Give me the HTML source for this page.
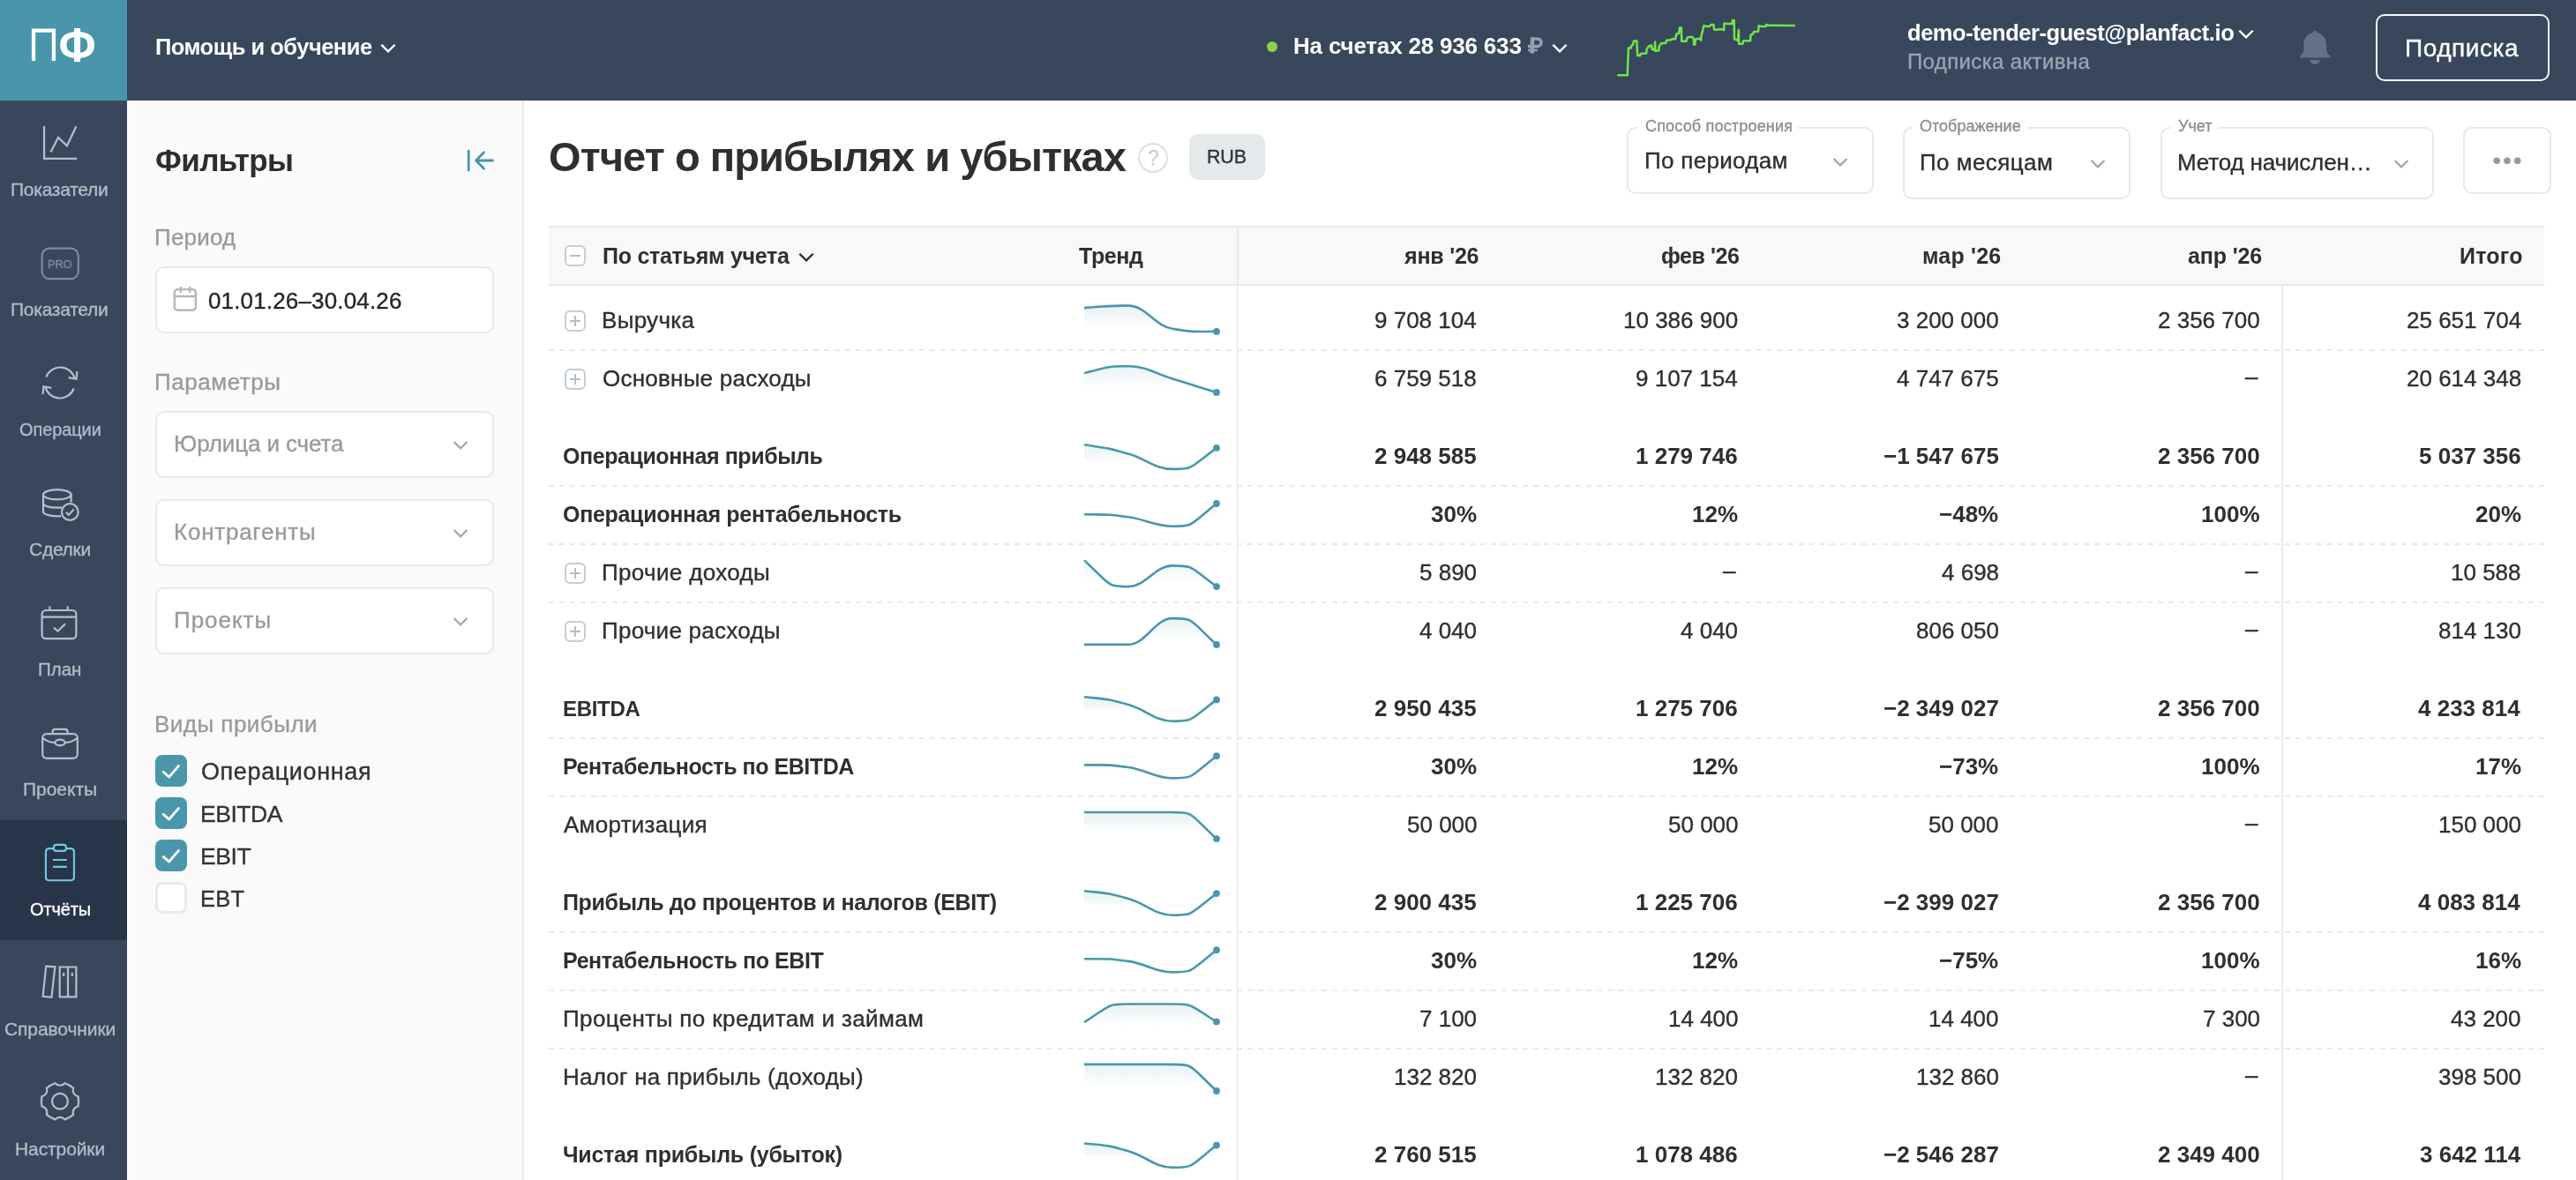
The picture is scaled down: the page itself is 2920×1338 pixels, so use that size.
<!DOCTYPE html>
<html lang="ru"><head><meta charset="utf-8"><title>Отчет о прибылях и убытках</title>
<style>
*{box-sizing:border-box;margin:0;padding:0}
html,body{width:2920px;height:1338px;overflow:hidden;background:#fff}
body{font-family:"Liberation Sans",sans-serif;color:#2f2f2f;position:relative;filter:opacity(1)}
.t{will-change:transform}
.r{-webkit-text-stroke:.35px}
.a{position:absolute}
.t{position:absolute;white-space:nowrap}
#topbar{position:absolute;left:0;top:0;width:2920px;height:114px;background:#38475c}
#logo{position:absolute;left:0;top:0;width:144px;height:114px;background:#4996aa}
#side{position:absolute;left:0;top:114px;width:144px;height:1224px;background:#38475c}
#act{position:absolute;left:0;top:930px;width:144px;height:136px;background:#283447}
#filt{position:absolute;left:144px;top:114px;width:450px;height:1224px;background:#fafafa;border-right:2px solid #ededef}
.fb{position:absolute;left:176px;width:384px;height:76px;border:2px solid #e8e8ef;border-radius:10px;background:#fff}
.cb{position:absolute;left:176px;width:36px;height:36px;border-radius:8px;background:#4a97ab}
.cb.off{background:#fff;border:3px solid #e9eaf0}
.dash{position:absolute;left:622px;width:2262px;height:2px;background:repeating-linear-gradient(90deg,#e9eaf0 0,#e9eaf0 6px,transparent 6px,transparent 12px)}
.ex{position:absolute;left:640px;width:24px;height:24px;border:2px solid #c5cdd4;border-radius:6px;background:#fff}
.ex:before{content:"";position:absolute;left:4px;top:9px;width:12px;height:2px;background:#b5bec6}
.ex.p:after{content:"";position:absolute;left:9px;top:4px;width:2px;height:12px;background:#b5bec6}
.sel{position:absolute;border:2px solid #e8e8ef;border-radius:10px;background:#fff}
.nt{position:absolute;top:-2px;height:2px;background:#fff}
</style></head><body>
<div id="topbar"></div><div id="logo"><svg class="a" style="left:30px;top:28px" width="84" height="48" viewBox="30 28 84 48"><path d="M38.05 68.9V34.7H60.95V68.9" fill="none" stroke="#fff" stroke-width="4.3"/><rect x="84.1" y="32" width="7" height="38.1" fill="#fff"/><path fill="#fff" fill-rule="evenodd" d="M68.20 50.95C68.20 41.08 74.81 36.00 87.65 36.00C100.49 36.00 107.10 41.08 107.10 50.95C107.10 60.82 100.49 65.90 87.65 65.90C74.81 65.90 68.20 60.82 68.20 50.95ZM75.60 50.95C75.60 57.36 78.92 59.85 87.45 59.85C95.98 59.85 99.30 57.36 99.30 50.95C99.30 44.54 95.98 42.05 87.45 42.05C78.92 42.05 75.60 44.54 75.60 50.95Z"/></svg></div><div class="t" style="left:175.6px;top:41px;font-size:25.5px;line-height:25.5px;color:#fff;font-weight:bold;letter-spacing:-0.50px">Помощь и обучение</div><svg class="a" style="left:429.0px;top:47.0px" width="22" height="16" viewBox="0 0 22 16"><path d="M4.2 4.6L11 11.4L17.8 4.6" fill="none" stroke="#fff" stroke-width="2.4" stroke-linecap="square"/></svg><div class="a" style="left:1436px;top:47px;width:12px;height:12px;border-radius:6px;background:#8fd14f"></div><div class="t" style="left:1465.8px;top:39px;font-size:26px;line-height:26px;color:#fff;font-weight:bold;letter-spacing:-0.19px">На счетах 28 936 633</div><svg class="a" style="left:1728px;top:38px" width="26" height="26" viewBox="1728 38 26 26" fill="none" stroke="#97a0ad"><path d="M1736.9 42.2V60.5" stroke-width="4.4"/><path d="M1736.9 44H1742.7A4.3 4.3 0 0 1 1742.7 52.6H1732" stroke-width="3.6"/><path d="M1732 57H1742.9" stroke-width="2.4"/></svg><svg class="a" style="left:1757.3px;top:46.5px" width="22" height="16" viewBox="0 0 22 16"><path d="M4.2 4.6L11 11.4L17.8 4.6" fill="none" stroke="#fff" stroke-width="2.4" stroke-linecap="square"/></svg><svg class="a" style="left:1830px;top:16px" width="212" height="76" viewBox="1830 16 212 76"><path d="M1834.3 85.2L1844.8 85.2L1845.9 54.6L1848.8 54.6L1849.0 52.0L1850.8 51.2L1852.0 46.4L1855.3 46.4L1856.2 63.1L1859.1 63.1L1859.7 61.1L1866.2 60.4L1866.6 55.7L1869.6 51.8L1871.3 52.7L1871.8 51.2L1872.9 56.0L1875.5 56.4L1876.1 47.5L1876.4 57.8L1880.3 57.3L1880.9 52.0L1882.9 49.3L1888.3 48.8L1889.2 45.7L1894.1 45.3L1895.9 44.1L1899.0 44.4L1900.4 38.4L1903.0 37.9L1903.9 31.6L1905.9 31.6L1906.2 46.8L1911.5 46.8L1912.1 43.8L1913.6 42.0L1918.7 42.0L1919.8 44.4L1920.2 50.6L1921.3 50.6L1921.8 44.4L1927.1 43.8L1928.2 45.7L1928.5 40.8L1931.4 29.2L1936.1 30.1L1938.3 29.5L1939.6 27.9L1942.5 27.9L1943.0 33.4L1946.8 33.7L1948.6 33.0L1953.5 33.4L1954.1 34.1L1954.4 26.5L1957.9 27.0L1963.3 27.1L1963.9 22.9L1965.7 22.9L1966.0 44.4L1970.0 45.7L1970.9 34.1L1971.1 49.7L1975.4 49.7L1976.1 46.2L1984.1 46.2L1984.5 39.5L1987.0 38.6L1987.9 36.1L1993.0 35.7L1993.7 29.2L1997.7 30.1L2001.7 29.8L2002.1 27.9L2004.4 28.8L2033.8 28.9" fill="none" stroke="#70e548" stroke-width="2.5" stroke-linejoin="round" stroke-linecap="round"/></svg><div class="t" style="left:2161.6px;top:25px;font-size:25.5px;line-height:25.5px;color:#fff;font-weight:bold;letter-spacing:-0.45px">demo-tender-guest@planfact.io</div><svg class="a" style="left:2535.0px;top:30.6px" width="22" height="16" viewBox="0 0 22 16"><path d="M4.2 4.6L11 11.4L17.8 4.6" fill="none" stroke="#fff" stroke-width="2.4" stroke-linecap="square"/></svg><div class="t r" style="left:2162.0px;top:58px;font-size:24px;line-height:24px;color:#9ba4af;letter-spacing:0.36px">Подписка активна</div><svg class="a" style="left:2604px;top:32px" width="40" height="44" viewBox="0 0 40 44" fill="#657184"><path d="M20.2 2.8C18.9 2.8 17.9 3.6 17.6 4.9C11.5 6.3 7.9 11.2 7.3 17V24C7.1 27 6 29 3.4 31.2C2.4 32.1 2.9 33.4 4.2 33.4H36.2C37.5 33.4 38 32.1 37 31.2C34.4 29 33.3 27 33.1 24V17C32.5 11.2 28.9 6.3 22.8 4.9C22.5 3.6 21.5 2.8 20.2 2.8Z"/><path d="M14.2 36H26.2C25.7 39 23.4 40.9 20.2 40.9C17 40.9 14.7 39 14.2 36Z"/></svg><div class="a" style="left:2693px;top:16px;width:197px;height:76px;border:2px solid #f6f7f9;border-radius:10px"></div><div class="t r" style="left:2725.8px;top:41px;font-size:28px;line-height:28px;color:#fff;letter-spacing:0.56px">Подписка</div><div id="side"></div><div id="act"></div><svg class="a" style="left:0;top:114px" width="144" height="1224" viewBox="0 0 144 1224" fill="none"><g transform="translate(0 0)" stroke="#b7bec9" stroke-width="2.2"><path d="M50.05 28.95V65.86H87.24"/><path d="M57.5 58.4L66 41.9L75.9 51.3L86.4 29.2"/></g><g transform="translate(0 136)" stroke="#b7bec9" stroke-width="2.2"><rect x="47.6" y="31.6" width="41.2" height="34.6" rx="8.5" stroke="#808b9a"/></g><g transform="translate(0 272)" stroke="#b7bec9" stroke-width="2.2"><path d="M52.3 41.5A17 17 0 0 1 84.6 43"/><path d="M77.6 42.2L86.6 43.8L87.4 35"/><path d="M83.7 54.5A17 17 0 0 1 51.4 53"/><path d="M58.4 53.8L49.4 52.2L48.6 61"/></g><g transform="translate(0 408)" stroke="#b7bec9" stroke-width="2.2"><ellipse cx="64.8" cy="38.8" rx="15.8" ry="5.6"/><path d="M49 38.8V58C49 61 55.5 63.3 64.8 63.3C66.5 63.3 67.8 63.2 69 63.1"/><path d="M80.6 38.8V47.5"/><path d="M49 48.4C49 51.4 55.5 53.7 64.8 53.7C66.8 53.7 68.6 53.6 70 53.4"/><circle cx="79.3" cy="58.5" r="9.4"/><path d="M74.9 58.9L77.9 61.9L83.7 55.4"/></g><g transform="translate(0 544)" stroke="#b7bec9" stroke-width="2.2"><rect x="47.6" y="34" width="38.8" height="32.2" rx="4.5"/><path d="M47.6 41.6H86.4M56.4 29.4V34M76.8 29.4V34"/><path d="M60.8 53.6L65.6 57.6L74.2 49.2"/></g><g transform="translate(0 680)" stroke="#b7bec9" stroke-width="2.2"><rect x="48.2" y="38.2" width="39.6" height="27.6" rx="4.5"/><path d="M59.6 38.2V35.8C59.6 33.8 60.8 32.8 62.6 32.8H73.6C75.4 32.8 76.6 33.8 76.6 35.8V38.2"/><path d="M48.2 42.5C52.5 46.3 58 48 62.4 48M73.6 48C78 48 83.5 46.3 87.8 42.5"/><ellipse cx="68" cy="48" rx="5.6" ry="3.3"/></g><g transform="translate(0 816)" stroke="#6fc7e5" stroke-width="2.2"><path d="M61 32.05H56C53.5 32.05 51.95 33.6 51.95 36.1V64.2C51.95 66.7 53.5 68.25 56 68.25H79.9C82.4 68.25 83.95 66.7 83.95 64.2V36.1C83.95 33.6 82.4 32.05 79.9 32.05H74.9"/><rect x="61.05" y="27.85" width="13.8" height="7" rx="2.6"/><path d="M60 45H75.9M60 52.9H75.9"/></g><g transform="translate(0 952)" stroke="#b7bec9" stroke-width="2.2"><path d="M52.2 29.6L62.4 30.3L58.4 64.9L48.6 63.8Z"/><path d="M67.7 30.5H86.4V64.4H67.7ZM77 30.5V64.4"/><path d="M72.2 37V41M81.8 37V41"/></g><g transform="translate(0 1088)" stroke="#b7bec9" stroke-width="2.2"><path d="M73.51 26.23A7.3 7.3 0 0 1 62.49 26.23A27.3 27.3 0 0 0 52.94 31.74A7.3 7.3 0 0 1 47.43 41.29A27.3 27.3 0 0 0 47.43 52.31A7.3 7.3 0 0 1 52.94 61.86A27.3 27.3 0 0 0 62.49 67.37A7.3 7.3 0 0 1 73.51 67.37A27.3 27.3 0 0 0 83.06 61.86A7.3 7.3 0 0 1 88.57 52.31A27.3 27.3 0 0 0 88.57 41.29A7.3 7.3 0 0 1 83.06 31.74A27.3 27.3 0 0 0 73.51 26.23Z"/><circle cx="68.0" cy="46.8" r="8.9"/></g></svg><div class="t r" style="left:53.7px;top:293px;font-size:13px;line-height:13px;color:#808b9a;letter-spacing:-0.23px">PRO</div><div class="t r" style="left:12.3px;top:204px;font-size:21px;line-height:21px;color:#b3bac4;letter-spacing:-0.26px">Показатели</div><div class="t r" style="left:12.3px;top:340px;font-size:21px;line-height:21px;color:#b3bac4;letter-spacing:-0.26px">Показатели</div><div class="t r" style="left:22.0px;top:477px;font-size:20px;line-height:20px;color:#b3bac4;letter-spacing:-0.10px">Операции</div><div class="t r" style="left:32.6px;top:612px;font-size:21px;line-height:21px;color:#b3bac4;letter-spacing:-0.27px">Сделки</div><div class="t r" style="left:43.3px;top:749px;font-size:20.5px;line-height:20.5px;color:#b3bac4;letter-spacing:-0.03px">План</div><div class="t r" style="left:25.8px;top:884px;font-size:21px;line-height:21px;color:#b3bac4;letter-spacing:-0.03px">Проекты</div><div class="t r" style="left:33.9px;top:1021px;font-size:20px;line-height:20px;color:#fff;letter-spacing:-0.12px">Отчёты</div><div class="t r" style="left:4.5px;top:1156px;font-size:21px;line-height:21px;color:#b3bac4;letter-spacing:-0.09px">Справочники</div><div class="t r" style="left:16.6px;top:1292px;font-size:21px;line-height:21px;color:#b3bac4;letter-spacing:-0.10px">Настройки</div><div id="filt"></div><div class="t" style="left:175.6px;top:164px;font-size:35px;line-height:35px;color:#2d2d2d;font-weight:bold;letter-spacing:-0.60px">Фильтры</div><svg class="a" style="left:526px;top:166px" width="38" height="32" viewBox="0 0 38 32"><path d="M5.2 5.2 V27" stroke="#4697ad" stroke-width="2.8" stroke-linecap="round" fill="none"/><path d="M32.5 16 H14 M22.5 6.8 L13.6 16 L22.5 25.2" stroke="#4697ad" stroke-width="2.8" stroke-linecap="round" stroke-linejoin="round" fill="none"/></svg><div class="t r" style="left:174.6px;top:256px;font-size:26px;line-height:26px;color:#9a9a9a;letter-spacing:0.20px">Период</div><div class="fb" style="top:302px"></div><svg class="a" style="left:194px;top:322px" width="32" height="34" viewBox="194 322 32 34" fill="none" stroke="#b6b6b6" stroke-width="2.4"><rect x="197.8" y="328.1" width="24.1" height="23.6" rx="3.6"/><path d="M197.8 336H221.9M204.9 325V332M215.1 325V332"/></svg><div class="t r" style="left:235.6px;top:328px;font-size:26px;line-height:26px;color:#262626;letter-spacing:0.16px">01.01.26–30.04.26</div><div class="t r" style="left:174.6px;top:420px;font-size:26px;line-height:26px;color:#9a9a9a;letter-spacing:0.54px">Параметры</div><div class="fb" style="top:466px"></div><div class="t r" style="left:196.8px;top:490px;font-size:26px;line-height:26px;color:#9a9a9a;letter-spacing:-0.10px">Юрлица и счета</div><svg class="a" style="left:510.6px;top:497.3px" width="22" height="16" viewBox="0 0 22 16"><path d="M4.2 4.6L11 11.4L17.8 4.6" fill="none" stroke="#a8a8a8" stroke-width="2.2" stroke-linecap="round"/></svg><div class="fb" style="top:566px"></div><div class="t r" style="left:196.8px;top:590px;font-size:26px;line-height:26px;color:#9a9a9a;letter-spacing:0.76px">Контрагенты</div><svg class="a" style="left:510.6px;top:597.3px" width="22" height="16" viewBox="0 0 22 16"><path d="M4.2 4.6L11 11.4L17.8 4.6" fill="none" stroke="#a8a8a8" stroke-width="2.2" stroke-linecap="round"/></svg><div class="fb" style="top:666px"></div><div class="t r" style="left:196.8px;top:690px;font-size:26px;line-height:26px;color:#9a9a9a;letter-spacing:0.96px">Проекты</div><svg class="a" style="left:510.6px;top:697.3px" width="22" height="16" viewBox="0 0 22 16"><path d="M4.2 4.6L11 11.4L17.8 4.6" fill="none" stroke="#a8a8a8" stroke-width="2.2" stroke-linecap="round"/></svg><div class="t r" style="left:174.6px;top:808px;font-size:26px;line-height:26px;color:#9a9a9a;letter-spacing:0.48px">Виды прибыли</div><div class="cb" style="top:856px"><svg width="36" height="36" viewBox="0 0 36 36"><path d="M9.2 19.4L15.6 25L26.4 12.6" fill="none" stroke="#fff" stroke-width="2.8" stroke-linecap="round" stroke-linejoin="round"/></svg></div><div class="t r" style="left:228.0px;top:862px;font-size:27px;line-height:27px;color:#333;letter-spacing:0.62px">Операционная</div><div class="cb" style="top:904px"><svg width="36" height="36" viewBox="0 0 36 36"><path d="M9.2 19.4L15.6 25L26.4 12.6" fill="none" stroke="#fff" stroke-width="2.8" stroke-linecap="round" stroke-linejoin="round"/></svg></div><div class="t r" style="left:227.0px;top:910px;font-size:26.5px;line-height:26.5px;color:#333;letter-spacing:-0.47px">EBITDA</div><div class="cb" style="top:952px"><svg width="36" height="36" viewBox="0 0 36 36"><path d="M9.2 19.4L15.6 25L26.4 12.6" fill="none" stroke="#fff" stroke-width="2.8" stroke-linecap="round" stroke-linejoin="round"/></svg></div><div class="t r" style="left:227.0px;top:958px;font-size:26.5px;line-height:26.5px;color:#333;letter-spacing:-0.40px">EBIT</div><div class="cb off" style="top:1000px"></div><div class="t r" style="left:227.0px;top:1007px;font-size:25.5px;line-height:25.5px;color:#333;letter-spacing:0.24px">EBT</div><div class="t" style="left:622.0px;top:154px;font-size:47px;line-height:47px;color:#2f2f2f;font-weight:bold;letter-spacing:-0.92px">Отчет о прибылях и убытках</div><div class="a" style="left:1290px;top:162px;width:34px;height:34px;border:2px solid #e0e0e0;border-radius:17px"></div><div class="t r" style="left:1301.0px;top:168px;font-size:23px;line-height:23px;color:#cfcfcf">?</div><div class="a" style="left:1348px;top:152px;width:86px;height:52px;border-radius:10px;background:#e4e9eb"></div><div class="t r" style="left:1367.7px;top:168px;font-size:21.5px;line-height:21.5px;color:#333;letter-spacing:-0.18px">RUB</div><div class="sel" style="left:1844px;top:144px;width:280px;height:76px"><div class="nt" style="left:10px;width:182px"></div></div><div class="t r" style="left:1864.7px;top:134px;font-size:18px;line-height:18px;color:#8e8e8e;letter-spacing:0.18px">Способ построения</div><div class="t r" style="left:1864.0px;top:169px;font-size:26px;line-height:26px;color:#2f2f2f;letter-spacing:0.31px">По периодам</div><svg class="a" style="left:2075.0px;top:175.5px" width="22" height="16" viewBox="0 0 22 16"><path d="M4.2 4.6L11 11.4L17.8 4.6" fill="none" stroke="#a8a8a8" stroke-width="2.2" stroke-linecap="round"/></svg><div class="sel" style="left:2157px;top:144px;width:258px;height:82px"><div class="nt" style="left:9px;width:130px"></div></div><div class="t r" style="left:2176.4px;top:134px;font-size:18px;line-height:18px;color:#8e8e8e;letter-spacing:0.02px">Отображение</div><div class="t r" style="left:2176.0px;top:171px;font-size:26px;line-height:26px;color:#2f2f2f;letter-spacing:0.43px">По месяцам</div><svg class="a" style="left:2367.0px;top:178.0px" width="22" height="16" viewBox="0 0 22 16"><path d="M4.2 4.6L11 11.4L17.8 4.6" fill="none" stroke="#a8a8a8" stroke-width="2.2" stroke-linecap="round"/></svg><div class="sel" style="left:2449px;top:144px;width:310px;height:82px"><div class="nt" style="left:9px;width:54px"></div></div><div class="t r" style="left:2468.6px;top:134px;font-size:18px;line-height:18px;color:#8e8e8e;letter-spacing:-0.01px">Учет</div><div class="t r" style="left:2468.0px;top:171px;font-size:26px;line-height:26px;color:#2f2f2f;letter-spacing:-0.15px">Метод начислен…</div><svg class="a" style="left:2711.0px;top:178.0px" width="22" height="16" viewBox="0 0 22 16"><path d="M4.2 4.6L11 11.4L17.8 4.6" fill="none" stroke="#a8a8a8" stroke-width="2.2" stroke-linecap="round"/></svg><div class="sel" style="left:2792px;top:144px;width:100px;height:76px"></div><svg class="a" style="left:2822px;top:174px" width="40" height="16" viewBox="2822 174 40 16" fill="#999"><circle cx="2830.2" cy="182.3" r="3.8"/><circle cx="2842" cy="182.3" r="3.8"/><circle cx="2853.7" cy="182.3" r="3.8"/></svg><div class="a" style="left:622px;top:256px;width:2262px;height:68px;background:#f8f8f9;border-top:2px solid #e9e9ef;border-bottom:2px solid #e9e9ef"></div><div class="a" style="left:1402px;top:258px;width:2px;height:64px;background:#e9e9ef"></div><div class="a" style="left:1402px;top:324px;width:1px;height:1014px;background:#e3e3ea"></div><div class="a" style="left:2586px;top:324px;width:2px;height:1014px;background:#e9e9ef"></div><div class="ex" style="top:278px"></div><div class="t" style="left:682.5px;top:278px;font-size:25px;line-height:25px;color:#2f2f2f;font-weight:bold;letter-spacing:-0.27px">По статьям учета</div><svg class="a" style="left:903.0px;top:283.5px" width="22" height="16" viewBox="0 0 22 16"><path d="M4.2 4.6L11 11.4L17.8 4.6" fill="none" stroke="#2f2f2f" stroke-width="2.4" stroke-linecap="square"/></svg><div class="t" style="left:1222.8px;top:278px;font-size:25px;line-height:25px;color:#2f2f2f;font-weight:bold;letter-spacing:-0.42px">Тренд</div><div class="t" style="left:1591.7px;top:278px;font-size:25px;line-height:25px;color:#2f2f2f;font-weight:bold;letter-spacing:-0.21px">янв '26</div><div class="t" style="left:1882.8px;top:278px;font-size:25px;line-height:25px;color:#2f2f2f;font-weight:bold;letter-spacing:-0.45px">фев '26</div><div class="t" style="left:2178.7px;top:278px;font-size:25px;line-height:25px;color:#2f2f2f;font-weight:bold;letter-spacing:0.19px">мар '26</div><div class="t" style="left:2479.6px;top:278px;font-size:25px;line-height:25px;color:#2f2f2f;font-weight:bold;letter-spacing:-0.13px">апр '26</div><div class="t" style="left:2788.0px;top:278px;font-size:25px;line-height:25px;color:#2f2f2f;font-weight:bold;letter-spacing:0.24px">Итого</div><div class="ex p" style="top:352px"></div><div class="t r" style="left:682.3px;top:350px;font-size:26px;line-height:26px;color:#2f2f2f;letter-spacing:0.30px">Выручка</div><div class="t r" style="left:1558.4px;top:350px;font-size:26px;line-height:26px;color:#2f2f2f">9 708 104</div><div class="t r" style="left:1839.9px;top:350px;font-size:26px;line-height:26px;color:#2f2f2f">10 386 900</div><div class="t r" style="left:2150.2px;top:350px;font-size:26px;line-height:26px;color:#2f2f2f">3 200 000</div><div class="t r" style="left:2446.2px;top:350px;font-size:26px;line-height:26px;color:#2f2f2f">2 356 700</div><div class="t r" style="left:2727.7px;top:350px;font-size:26px;line-height:26px;color:#2f2f2f">25 651 704</div><div class="dash" style="top:396px"></div><div class="ex p" style="top:418px"></div><div class="t r" style="left:683.3px;top:416px;font-size:26px;line-height:26px;color:#2f2f2f;letter-spacing:0.24px">Основные расходы</div><div class="t r" style="left:1558.4px;top:416px;font-size:26px;line-height:26px;color:#2f2f2f">6 759 518</div><div class="t r" style="left:1854.4px;top:416px;font-size:26px;line-height:26px;color:#2f2f2f">9 107 154</div><div class="t r" style="left:2150.2px;top:416px;font-size:26px;line-height:26px;color:#2f2f2f">4 747 675</div><div class="t r" style="left:2544.9px;top:414px;font-size:26px;line-height:26px;color:#2f2f2f">–</div><div class="t r" style="left:2727.7px;top:416px;font-size:26px;line-height:26px;color:#2f2f2f">20 614 348</div><div class="t" style="left:638.4px;top:505px;font-size:25px;line-height:25px;color:#2f2f2f;font-weight:bold;letter-spacing:-0.43px">Операционная прибыль</div><div class="t" style="left:1558.4px;top:504px;font-size:26px;line-height:26px;color:#2f2f2f;font-weight:bold">2 948 585</div><div class="t" style="left:1854.4px;top:504px;font-size:26px;line-height:26px;color:#2f2f2f;font-weight:bold">1 279 746</div><div class="t" style="left:2135.0px;top:504px;font-size:26px;line-height:26px;color:#2f2f2f;font-weight:bold">−1 547 675</div><div class="t" style="left:2446.2px;top:504px;font-size:26px;line-height:26px;color:#2f2f2f;font-weight:bold">2 356 700</div><div class="t" style="left:2742.2px;top:504px;font-size:26px;line-height:26px;color:#2f2f2f;font-weight:bold">5 037 356</div><div class="dash" style="top:550px"></div><div class="t" style="left:638.4px;top:571px;font-size:25px;line-height:25px;color:#2f2f2f;font-weight:bold;letter-spacing:-0.30px">Операционная рентабельность</div><div class="t" style="left:1621.7px;top:570px;font-size:26px;line-height:26px;color:#2f2f2f;font-weight:bold">30%</div><div class="t" style="left:1917.7px;top:570px;font-size:26px;line-height:26px;color:#2f2f2f;font-weight:bold">12%</div><div class="t" style="left:2198.3px;top:570px;font-size:26px;line-height:26px;color:#2f2f2f;font-weight:bold">−48%</div><div class="t" style="left:2495.0px;top:570px;font-size:26px;line-height:26px;color:#2f2f2f;font-weight:bold">100%</div><div class="t" style="left:2805.5px;top:570px;font-size:26px;line-height:26px;color:#2f2f2f;font-weight:bold">20%</div><div class="dash" style="top:616px"></div><div class="ex p" style="top:638px"></div><div class="t r" style="left:682.3px;top:636px;font-size:26px;line-height:26px;color:#2f2f2f;letter-spacing:0.35px">Прочие доходы</div><div class="t r" style="left:1609.0px;top:636px;font-size:26px;line-height:26px;color:#2f2f2f">5 890</div><div class="t r" style="left:1953.1px;top:634px;font-size:26px;line-height:26px;color:#2f2f2f">–</div><div class="t r" style="left:2200.8px;top:636px;font-size:26px;line-height:26px;color:#2f2f2f">4 698</div><div class="t r" style="left:2544.9px;top:634px;font-size:26px;line-height:26px;color:#2f2f2f">–</div><div class="t r" style="left:2778.3px;top:636px;font-size:26px;line-height:26px;color:#2f2f2f">10 588</div><div class="dash" style="top:682px"></div><div class="ex p" style="top:704px"></div><div class="t r" style="left:682.3px;top:702px;font-size:26px;line-height:26px;color:#2f2f2f;letter-spacing:0.26px">Прочие расходы</div><div class="t r" style="left:1609.0px;top:702px;font-size:26px;line-height:26px;color:#2f2f2f">4 040</div><div class="t r" style="left:1905.0px;top:702px;font-size:26px;line-height:26px;color:#2f2f2f">4 040</div><div class="t r" style="left:2171.9px;top:702px;font-size:26px;line-height:26px;color:#2f2f2f">806 050</div><div class="t r" style="left:2544.9px;top:700px;font-size:26px;line-height:26px;color:#2f2f2f">–</div><div class="t r" style="left:2763.9px;top:702px;font-size:26px;line-height:26px;color:#2f2f2f">814 130</div><div class="t" style="left:638.4px;top:792px;font-size:24px;line-height:24px;color:#2f2f2f;font-weight:bold;letter-spacing:-0.30px">EBITDA</div><div class="t" style="left:1558.4px;top:790px;font-size:26px;line-height:26px;color:#2f2f2f;font-weight:bold">2 950 435</div><div class="t" style="left:1854.4px;top:790px;font-size:26px;line-height:26px;color:#2f2f2f;font-weight:bold">1 275 706</div><div class="t" style="left:2135.0px;top:790px;font-size:26px;line-height:26px;color:#2f2f2f;font-weight:bold">−2 349 027</div><div class="t" style="left:2446.2px;top:790px;font-size:26px;line-height:26px;color:#2f2f2f;font-weight:bold">2 356 700</div><div class="t" style="left:2741.2px;top:790px;font-size:26px;line-height:26px;color:#2f2f2f;font-weight:bold">4 233 814</div><div class="dash" style="top:836px"></div><div class="t" style="left:638.4px;top:857px;font-size:25px;line-height:25px;color:#2f2f2f;font-weight:bold;letter-spacing:-0.45px">Рентабельность по EBITDA</div><div class="t" style="left:1621.7px;top:856px;font-size:26px;line-height:26px;color:#2f2f2f;font-weight:bold">30%</div><div class="t" style="left:1917.7px;top:856px;font-size:26px;line-height:26px;color:#2f2f2f;font-weight:bold">12%</div><div class="t" style="left:2198.3px;top:856px;font-size:26px;line-height:26px;color:#2f2f2f;font-weight:bold">−73%</div><div class="t" style="left:2495.0px;top:856px;font-size:26px;line-height:26px;color:#2f2f2f;font-weight:bold">100%</div><div class="t" style="left:2805.5px;top:856px;font-size:26px;line-height:26px;color:#2f2f2f;font-weight:bold">17%</div><div class="dash" style="top:902px"></div><div class="t r" style="left:639.0px;top:922px;font-size:26px;line-height:26px;color:#2f2f2f;letter-spacing:0.27px">Амортизация</div><div class="t r" style="left:1594.5px;top:922px;font-size:26px;line-height:26px;color:#2f2f2f">50 000</div><div class="t r" style="left:1890.5px;top:922px;font-size:26px;line-height:26px;color:#2f2f2f">50 000</div><div class="t r" style="left:2186.3px;top:922px;font-size:26px;line-height:26px;color:#2f2f2f">50 000</div><div class="t r" style="left:2544.9px;top:920px;font-size:26px;line-height:26px;color:#2f2f2f">–</div><div class="t r" style="left:2763.9px;top:922px;font-size:26px;line-height:26px;color:#2f2f2f">150 000</div><div class="t" style="left:638.4px;top:1011px;font-size:25px;line-height:25px;color:#2f2f2f;font-weight:bold;letter-spacing:-0.35px">Прибыль до процентов и налогов (EBIT)</div><div class="t" style="left:1558.4px;top:1010px;font-size:26px;line-height:26px;color:#2f2f2f;font-weight:bold">2 900 435</div><div class="t" style="left:1854.4px;top:1010px;font-size:26px;line-height:26px;color:#2f2f2f;font-weight:bold">1 225 706</div><div class="t" style="left:2135.0px;top:1010px;font-size:26px;line-height:26px;color:#2f2f2f;font-weight:bold">−2 399 027</div><div class="t" style="left:2446.2px;top:1010px;font-size:26px;line-height:26px;color:#2f2f2f;font-weight:bold">2 356 700</div><div class="t" style="left:2741.2px;top:1010px;font-size:26px;line-height:26px;color:#2f2f2f;font-weight:bold">4 083 814</div><div class="dash" style="top:1056px"></div><div class="t" style="left:638.4px;top:1077px;font-size:25px;line-height:25px;color:#2f2f2f;font-weight:bold;letter-spacing:-0.42px">Рентабельность по EBIT</div><div class="t" style="left:1621.7px;top:1076px;font-size:26px;line-height:26px;color:#2f2f2f;font-weight:bold">30%</div><div class="t" style="left:1917.7px;top:1076px;font-size:26px;line-height:26px;color:#2f2f2f;font-weight:bold">12%</div><div class="t" style="left:2198.3px;top:1076px;font-size:26px;line-height:26px;color:#2f2f2f;font-weight:bold">−75%</div><div class="t" style="left:2495.0px;top:1076px;font-size:26px;line-height:26px;color:#2f2f2f;font-weight:bold">100%</div><div class="t" style="left:2805.5px;top:1076px;font-size:26px;line-height:26px;color:#2f2f2f;font-weight:bold">16%</div><div class="dash" style="top:1122px"></div><div class="t r" style="left:638.2px;top:1142px;font-size:26px;line-height:26px;color:#2f2f2f;letter-spacing:0.39px">Проценты по кредитам и займам</div><div class="t r" style="left:1609.0px;top:1142px;font-size:26px;line-height:26px;color:#2f2f2f">7 100</div><div class="t r" style="left:1890.5px;top:1142px;font-size:26px;line-height:26px;color:#2f2f2f">14 400</div><div class="t r" style="left:2186.3px;top:1142px;font-size:26px;line-height:26px;color:#2f2f2f">14 400</div><div class="t r" style="left:2496.8px;top:1142px;font-size:26px;line-height:26px;color:#2f2f2f">7 300</div><div class="t r" style="left:2778.3px;top:1142px;font-size:26px;line-height:26px;color:#2f2f2f">43 200</div><div class="dash" style="top:1188px"></div><div class="t r" style="left:638.2px;top:1208px;font-size:26px;line-height:26px;color:#2f2f2f;letter-spacing:0.21px">Налог на прибыль (доходы)</div><div class="t r" style="left:1580.1px;top:1208px;font-size:26px;line-height:26px;color:#2f2f2f">132 820</div><div class="t r" style="left:1876.1px;top:1208px;font-size:26px;line-height:26px;color:#2f2f2f">132 820</div><div class="t r" style="left:2171.9px;top:1208px;font-size:26px;line-height:26px;color:#2f2f2f">132 860</div><div class="t r" style="left:2544.9px;top:1206px;font-size:26px;line-height:26px;color:#2f2f2f">–</div><div class="t r" style="left:2763.9px;top:1208px;font-size:26px;line-height:26px;color:#2f2f2f">398 500</div><div class="t" style="left:638.4px;top:1297px;font-size:25px;line-height:25px;color:#2f2f2f;font-weight:bold;letter-spacing:-0.24px">Чистая прибыль (убыток)</div><div class="t" style="left:1558.4px;top:1296px;font-size:26px;line-height:26px;color:#2f2f2f;font-weight:bold">2 760 515</div><div class="t" style="left:1854.4px;top:1296px;font-size:26px;line-height:26px;color:#2f2f2f;font-weight:bold">1 078 486</div><div class="t" style="left:2135.0px;top:1296px;font-size:26px;line-height:26px;color:#2f2f2f;font-weight:bold">−2 546 287</div><div class="t" style="left:2446.2px;top:1296px;font-size:26px;line-height:26px;color:#2f2f2f;font-weight:bold">2 349 400</div><div class="t" style="left:2742.6px;top:1296px;font-size:26px;line-height:26px;color:#2f2f2f;font-weight:bold">3 642 114</div><svg class="a" style="left:1200px;top:324px" width="200" height="1014" viewBox="1200 324 200 1014"><defs><linearGradient id="g0" gradientUnits="userSpaceOnUse" x1="0" y1="346.6" x2="0" y2="379.0"><stop offset="0" stop-color="#4a97ab" stop-opacity=".13"/><stop offset=".8" stop-color="#4a97ab" stop-opacity="0"/></linearGradient><linearGradient id="g1" gradientUnits="userSpaceOnUse" x1="0" y1="415.2" x2="0" y2="444.9"><stop offset="0" stop-color="#4a97ab" stop-opacity=".13"/><stop offset=".8" stop-color="#4a97ab" stop-opacity="0"/></linearGradient><linearGradient id="g2" gradientUnits="userSpaceOnUse" x1="0" y1="504.3" x2="0" y2="531.9"><stop offset="0" stop-color="#4a97ab" stop-opacity=".13"/><stop offset=".8" stop-color="#4a97ab" stop-opacity="0"/></linearGradient><linearGradient id="g3" gradientUnits="userSpaceOnUse" x1="0" y1="571.0" x2="0" y2="596.7"><stop offset="0" stop-color="#4a97ab" stop-opacity=".13"/><stop offset=".8" stop-color="#4a97ab" stop-opacity="0"/></linearGradient><linearGradient id="g4" gradientUnits="userSpaceOnUse" x1="0" y1="635.4" x2="0" y2="665.1"><stop offset="0" stop-color="#4a97ab" stop-opacity=".13"/><stop offset=".8" stop-color="#4a97ab" stop-opacity="0"/></linearGradient><linearGradient id="g5" gradientUnits="userSpaceOnUse" x1="0" y1="701.1" x2="0" y2="731.0"><stop offset="0" stop-color="#4a97ab" stop-opacity=".13"/><stop offset=".8" stop-color="#4a97ab" stop-opacity="0"/></linearGradient><linearGradient id="g6" gradientUnits="userSpaceOnUse" x1="0" y1="790.3" x2="0" y2="817.7"><stop offset="0" stop-color="#4a97ab" stop-opacity=".13"/><stop offset=".8" stop-color="#4a97ab" stop-opacity="0"/></linearGradient><linearGradient id="g7" gradientUnits="userSpaceOnUse" x1="0" y1="857.2" x2="0" y2="882.4"><stop offset="0" stop-color="#4a97ab" stop-opacity=".13"/><stop offset=".8" stop-color="#4a97ab" stop-opacity="0"/></linearGradient><linearGradient id="g8" gradientUnits="userSpaceOnUse" x1="0" y1="921.0" x2="0" y2="951.1"><stop offset="0" stop-color="#4a97ab" stop-opacity=".13"/><stop offset=".8" stop-color="#4a97ab" stop-opacity="0"/></linearGradient><linearGradient id="g9" gradientUnits="userSpaceOnUse" x1="0" y1="1010.3" x2="0" y2="1037.7"><stop offset="0" stop-color="#4a97ab" stop-opacity=".13"/><stop offset=".8" stop-color="#4a97ab" stop-opacity="0"/></linearGradient><linearGradient id="g10" gradientUnits="userSpaceOnUse" x1="0" y1="1077.2" x2="0" y2="1102.4"><stop offset="0" stop-color="#4a97ab" stop-opacity=".13"/><stop offset=".8" stop-color="#4a97ab" stop-opacity="0"/></linearGradient><linearGradient id="g11" gradientUnits="userSpaceOnUse" x1="0" y1="1138.5" x2="0" y2="1169.2"><stop offset="0" stop-color="#4a97ab" stop-opacity=".13"/><stop offset=".8" stop-color="#4a97ab" stop-opacity="0"/></linearGradient><linearGradient id="g12" gradientUnits="userSpaceOnUse" x1="0" y1="1206.9" x2="0" y2="1237.0"><stop offset="0" stop-color="#4a97ab" stop-opacity=".13"/><stop offset=".8" stop-color="#4a97ab" stop-opacity="0"/></linearGradient><linearGradient id="g13" gradientUnits="userSpaceOnUse" x1="0" y1="1296.5" x2="0" y2="1323.9"><stop offset="0" stop-color="#4a97ab" stop-opacity=".13"/><stop offset=".8" stop-color="#4a97ab" stop-opacity="0"/></linearGradient></defs><path d="M1229.0 349.1C1260.0 346.7 1254.0 346.6 1279.0 346.6C1299.0 346.6 1309.0 369.7 1329.0 372.8C1354.0 376.7 1348.0 375.9 1379.0 375.9L1379.0 379.0L1229.0 379.0Z" fill="url(#g0)"/><path d="M1229.0 349.1C1260.0 346.7 1254.0 346.6 1279.0 346.6C1299.0 346.6 1309.0 369.7 1329.0 372.8C1354.0 376.7 1348.0 375.9 1379.0 375.9" fill="none" stroke="#4a97ab" stroke-width="2.6"/><circle cx="1379.0" cy="375.9" r="3.9" fill="#4a97ab"/><path d="M1229.0 422.9C1260.0 415.5 1254.0 415.2 1279.0 415.2C1299.0 415.2 1309.0 423.5 1329.0 429.4C1354.0 436.8 1348.0 435.7 1379.0 444.9L1379.0 444.9L1229.0 444.9Z" fill="url(#g1)"/><path d="M1229.0 422.9C1260.0 415.5 1254.0 415.2 1279.0 415.2C1299.0 415.2 1309.0 423.5 1329.0 429.4C1354.0 436.8 1348.0 435.7 1379.0 444.9" fill="none" stroke="#4a97ab" stroke-width="2.6"/><circle cx="1379.0" cy="444.9" r="3.9" fill="#4a97ab"/><path d="M1229.0 504.3C1260.0 508.9 1254.0 507.6 1279.0 514.5C1299.0 520.1 1309.0 531.9 1329.0 531.9C1354.0 531.9 1348.0 530.9 1379.0 507.9L1379.0 522.4L1229.0 522.4Z" fill="url(#g2)"/><path d="M1229.0 504.3C1260.0 508.9 1254.0 507.6 1279.0 514.5C1299.0 520.1 1309.0 531.9 1329.0 531.9C1354.0 531.9 1348.0 530.9 1379.0 507.9" fill="none" stroke="#4a97ab" stroke-width="2.6"/><circle cx="1379.0" cy="507.9" r="3.9" fill="#4a97ab"/><path d="M1229.0 583.2C1260.0 583.6 1254.0 582.9 1279.0 586.3C1299.0 589.0 1309.0 596.7 1329.0 596.7C1354.0 596.7 1348.0 595.7 1379.0 571.0L1379.0 588.4L1229.0 588.4Z" fill="url(#g3)"/><path d="M1229.0 583.2C1260.0 583.6 1254.0 582.9 1279.0 586.3C1299.0 589.0 1309.0 596.7 1329.0 596.7C1354.0 596.7 1348.0 595.7 1379.0 571.0" fill="none" stroke="#4a97ab" stroke-width="2.6"/><circle cx="1379.0" cy="571.0" r="3.9" fill="#4a97ab"/><path d="M1229.0 635.4C1260.0 663.9 1254.0 665.1 1279.0 665.1C1299.0 665.1 1309.0 641.4 1329.0 641.4C1354.0 641.4 1348.0 642.4 1379.0 665.1L1379.0 665.1L1229.0 665.1Z" fill="url(#g4)"/><path d="M1229.0 635.4C1260.0 663.9 1254.0 665.1 1279.0 665.1C1299.0 665.1 1309.0 641.4 1329.0 641.4C1354.0 641.4 1348.0 642.4 1379.0 665.1" fill="none" stroke="#4a97ab" stroke-width="2.6"/><circle cx="1379.0" cy="665.1" r="3.9" fill="#4a97ab"/><path d="M1229.0 730.9C1260.0 730.9 1254.0 730.9 1279.0 730.9C1299.0 730.9 1309.0 701.1 1329.0 701.1C1354.0 701.1 1348.0 702.3 1379.0 731.0L1379.0 731.0L1229.0 731.0Z" fill="url(#g5)"/><path d="M1229.0 730.9C1260.0 730.9 1254.0 730.9 1279.0 730.9C1299.0 730.9 1309.0 701.1 1329.0 701.1C1354.0 701.1 1348.0 702.3 1379.0 731.0" fill="none" stroke="#4a97ab" stroke-width="2.6"/><circle cx="1379.0" cy="731.0" r="3.9" fill="#4a97ab"/><path d="M1229.0 790.3C1260.0 793.4 1254.0 792.1 1279.0 799.0C1299.0 804.4 1309.0 817.7 1329.0 817.7C1354.0 817.7 1348.0 816.7 1379.0 793.4L1379.0 805.6L1229.0 805.6Z" fill="url(#g6)"/><path d="M1229.0 790.3C1260.0 793.4 1254.0 792.1 1279.0 799.0C1299.0 804.4 1309.0 817.7 1329.0 817.7C1354.0 817.7 1348.0 816.7 1379.0 793.4" fill="none" stroke="#4a97ab" stroke-width="2.6"/><circle cx="1379.0" cy="793.4" r="3.9" fill="#4a97ab"/><path d="M1229.0 867.4C1260.0 867.4 1254.0 866.7 1279.0 870.0C1299.0 872.6 1309.0 882.4 1329.0 882.4C1354.0 882.4 1348.0 881.4 1379.0 857.2L1379.0 871.8L1229.0 871.8Z" fill="url(#g7)"/><path d="M1229.0 867.4C1260.0 867.4 1254.0 866.7 1279.0 870.0C1299.0 872.6 1309.0 882.4 1329.0 882.4C1354.0 882.4 1348.0 881.4 1379.0 857.2" fill="none" stroke="#4a97ab" stroke-width="2.6"/><circle cx="1379.0" cy="857.2" r="3.9" fill="#4a97ab"/><path d="M1229.0 921.0C1260.0 921.0 1254.0 921.0 1279.0 921.0C1299.0 921.0 1309.0 921.0 1329.0 921.0C1354.0 921.0 1348.0 922.2 1379.0 951.1L1379.0 951.1L1229.0 951.1Z" fill="url(#g8)"/><path d="M1229.0 921.0C1260.0 921.0 1254.0 921.0 1279.0 921.0C1299.0 921.0 1309.0 921.0 1329.0 921.0C1354.0 921.0 1348.0 922.2 1379.0 951.1" fill="none" stroke="#4a97ab" stroke-width="2.6"/><circle cx="1379.0" cy="951.1" r="3.9" fill="#4a97ab"/><path d="M1229.0 1010.3C1260.0 1013.4 1254.0 1012.1 1279.0 1019.0C1299.0 1024.4 1309.0 1037.7 1329.0 1037.7C1354.0 1037.7 1348.0 1036.7 1379.0 1013.1L1379.0 1025.3L1229.0 1025.3Z" fill="url(#g9)"/><path d="M1229.0 1010.3C1260.0 1013.4 1254.0 1012.1 1279.0 1019.0C1299.0 1024.4 1309.0 1037.7 1329.0 1037.7C1354.0 1037.7 1348.0 1036.7 1379.0 1013.1" fill="none" stroke="#4a97ab" stroke-width="2.6"/><circle cx="1379.0" cy="1013.1" r="3.9" fill="#4a97ab"/><path d="M1229.0 1087.3C1260.0 1087.3 1254.0 1086.6 1279.0 1089.9C1299.0 1092.5 1309.0 1102.4 1329.0 1102.4C1354.0 1102.4 1348.0 1101.4 1379.0 1077.2L1379.0 1091.6L1229.0 1091.6Z" fill="url(#g10)"/><path d="M1229.0 1087.3C1260.0 1087.3 1254.0 1086.6 1279.0 1089.9C1299.0 1092.5 1309.0 1102.4 1329.0 1102.4C1354.0 1102.4 1348.0 1101.4 1379.0 1077.2" fill="none" stroke="#4a97ab" stroke-width="2.6"/><circle cx="1379.0" cy="1077.2" r="3.9" fill="#4a97ab"/><path d="M1229.0 1159.2C1260.0 1139.3 1254.0 1138.5 1279.0 1138.5C1299.0 1138.5 1309.0 1138.5 1329.0 1138.5C1354.0 1138.5 1348.0 1139.3 1379.0 1158.6L1379.0 1169.2L1229.0 1169.2Z" fill="url(#g11)"/><path d="M1229.0 1159.2C1260.0 1139.3 1254.0 1138.5 1279.0 1138.5C1299.0 1138.5 1309.0 1138.5 1329.0 1138.5C1354.0 1138.5 1348.0 1139.3 1379.0 1158.6" fill="none" stroke="#4a97ab" stroke-width="2.6"/><circle cx="1379.0" cy="1158.6" r="3.9" fill="#4a97ab"/><path d="M1229.0 1206.9C1260.0 1206.9 1254.0 1206.9 1279.0 1206.9C1299.0 1206.9 1309.0 1206.9 1329.0 1206.9C1354.0 1206.9 1348.0 1208.1 1379.0 1237.0L1379.0 1237.0L1229.0 1237.0Z" fill="url(#g12)"/><path d="M1229.0 1206.9C1260.0 1206.9 1254.0 1206.9 1279.0 1206.9C1299.0 1206.9 1309.0 1206.9 1329.0 1206.9C1354.0 1206.9 1348.0 1208.1 1379.0 1237.0" fill="none" stroke="#4a97ab" stroke-width="2.6"/><circle cx="1379.0" cy="1237.0" r="3.9" fill="#4a97ab"/><path d="M1229.0 1296.5C1260.0 1299.6 1254.0 1298.3 1279.0 1305.2C1299.0 1310.7 1309.0 1323.9 1329.0 1323.9C1354.0 1323.9 1348.0 1322.9 1379.0 1298.6L1379.0 1310.8L1229.0 1310.8Z" fill="url(#g13)"/><path d="M1229.0 1296.5C1260.0 1299.6 1254.0 1298.3 1279.0 1305.2C1299.0 1310.7 1309.0 1323.9 1329.0 1323.9C1354.0 1323.9 1348.0 1322.9 1379.0 1298.6" fill="none" stroke="#4a97ab" stroke-width="2.6"/><circle cx="1379.0" cy="1298.6" r="3.9" fill="#4a97ab"/></svg></body></html>
